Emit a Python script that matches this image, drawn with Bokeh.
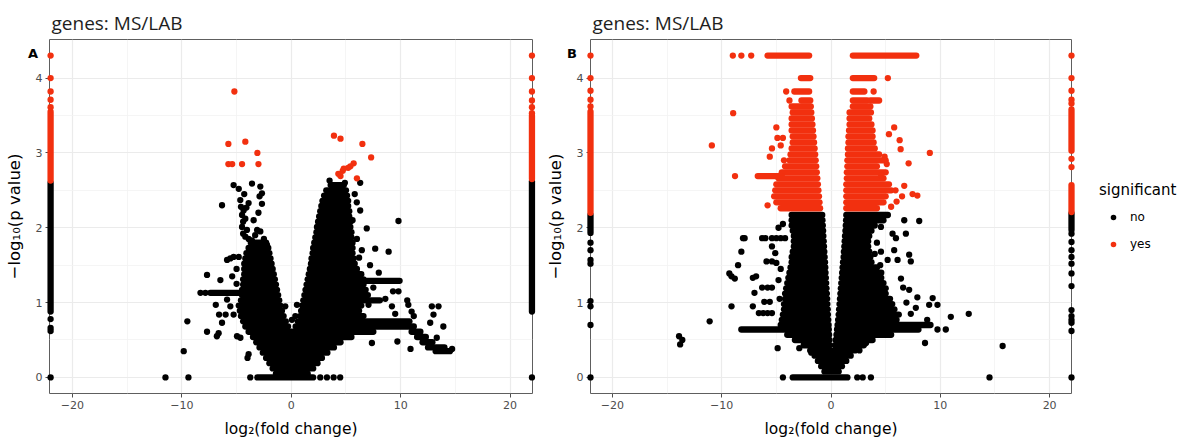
from bokeh.plotting import figure
from bokeh.models import Range1d, FixedTicker, Legend, LegendItem
from bokeh.layouts import row
from bokeh.embed import file_html
from bokeh.resources import INLINE
from bokeh.core.properties import value

# ---------------- data ----------------
TITLE = "genes: MS/LAB"
X_LABEL = "log\u2082(fold change)"
Y_LABEL = "\u2212log\u2081\u2080(p value)"
LEGEND_TITLE = "significant"
CATEGORIES = ["no", "yes"]
X_TICKS = [-20, -10, 0, 10, 20]
X_MINOR = [-15, -5, 5, 15]
Y_TICKS = [0, 1, 2, 3, 4]
Y_MINOR = [0.5, 1.5, 2.5, 3.5]

# Panel A -- dense, saturated stretches of overlapping points: (y, x_from, x_to)
A_NO_RUNS = [
    (0.00, -3.1, 2.0), (0.05, -1.4, 1.5), (0.12, -1.7, 2.0), (0.19, -2.0, 2.4),
    (0.26, -2.3, 2.8), (0.33, -2.6, 3.3), (0.40, -2.9, 3.9), (0.47, -3.2, 4.5),
    (0.54, -3.5, 5.5), (0.61, -3.9, 7.5), (0.61, 11.0, 11.8),
    (0.68, -4.2, -0.3), (0.68, 0.4, 11.2), (0.75, -4.4, -0.5), (0.75, 0.6, 10.8),
    (0.82, -4.6, -0.7), (0.82, 0.8, 6.6), (0.89, -4.7, -0.85), (0.89, 0.9, 6.2),
    (0.96, -4.8, -1.0), (0.96, 1.0, 6.4), (1.03, -4.6, -1.1), (1.03, 1.1, 8.1),
    (1.10, -4.5, -1.2), (1.10, 1.2, 7.0), (1.13, -7.4, -4.5),
    (1.17, -4.5, -1.3), (1.17, 1.3, 6.8), (1.24, -4.4, -1.4), (1.24, 1.4, 6.6),
    (1.29, 6.6, 9.9), (1.31, -4.4, -1.5), (1.31, 1.5, 6.6),
    (1.38, -4.3, -1.6), (1.38, 1.6, 6.4), (1.45, -4.3, -1.7), (1.45, 1.7, 6.0),
    (1.52, -4.3, -1.8), (1.52, 1.8, 5.8), (1.59, -4.2, -1.9), (1.59, 1.85, 5.7),
    (1.66, -4.1, -2.0), (1.66, 1.95, 5.6), (1.73, -3.9, -2.1), (1.73, 2.0, 5.6),
    (1.80, -3.7, -2.3), (1.80, 2.1, 5.6), (1.87, 2.2, 5.5), (1.94, 2.3, 5.5),
    (2.01, 2.35, 5.4), (2.08, 2.45, 5.4), (2.15, 2.55, 5.3), (2.22, 2.65, 5.3),
    (2.29, 2.75, 5.2), (2.36, 2.85, 5.2), (2.43, 3.0, 5.1), (2.50, 3.2, 5.0),
    (2.57, 3.6, 4.8),
    (0.54, 11.5, 12.3), (0.47, 12.0, 12.9), (0.40, 12.5, 14.0), (0.35, 13.2, 14.5),
]
A_YES_RUNS = []
# points squeezed onto the axis limits: (x, y_from, y_to)
A_NO_EDGE = [(-22, 0.88, 2.60), (22, 0.88, 2.62)]
A_YES_EDGE = [(-22, 2.63, 3.55), (22, 2.65, 3.50)]
A_NO_PTS = [
    (-5.27, 2.57), (-4.8, 2.52), (-3.59, 2.59), (-2.83, 2.55), (-2.68, 2.46), (-6.33, 2.30),
    (-4.66, 2.37), (-3.9, 2.33), (-2.68, 2.32), (-4.36, 2.23), (-4.5, 2.17), (-3.44, 2.10),
    (-4.5, 2.01), (-4.05, 1.97), (-3.13, 1.97), (-2.83, 1.95), (-4.2, 1.88), (-3.6, 1.83),
    (-2.22, 1.77), (-2.68, 1.75), (-4.4, 2.08), (-4.2, 2.12), (-3.0, 2.20), (-2.9, 2.42),
    (-4.6, 2.28), (-4.3, 2.45), (-4.1, 2.27), (-4.4, 1.92), (-3.9, 1.85), (-3.3, 1.90), (-2.5, 1.85),
    (-5.87, 1.57), (-5.57, 1.59), (-5.27, 1.61), (-4.8, 1.61), (-7.7, 1.37), (-6.48, 1.30),
    (-8.3, 1.13), (-7.85, 1.13), (-5.87, 1.04), (-6.9, 0.97), (-5.57, 0.95), (-5.27, 0.84),
    (-6.6, 0.84), (-6.0, 0.84), (-6.33, 0.73), (-7.7, 0.61), (-6.64, 0.59), (-6.8, 0.55),
    (-4.96, 0.55), (-4.65, 0.53), (-9.5, 0.75), (-9.83, 0.35), (-9.4, 0.0), (-11.5, 0.0),
    (-3.75, 0.0), (-3.9, 0.31), (-4.0, 0.26), (-5.0, 1.25), (-5.4, 1.35), (-5.0, 1.45),
    (-0.55, 0.95), (0.52, 0.97), (0.37, 0.82), (0.06, 0.77),
    (9.8, 2.09), (8.9, 1.68), (7.67, 1.72), (6.45, 1.70), (6.9, 1.99), (6.3, 2.23), (5.99, 2.34),
    (6.3, 2.60), (4.9, 2.60), (3.5, 2.63), (10.6, 1.03), (10.7, 0.97), (11.0, 0.88), (11.2, 0.82),
    (7.37, 0.46), (9.7, 0.48), (10.9, 0.38), (12.85, 0.95), (13.46, 0.95), (13.0, 0.84),
    (12.7, 0.73), (13.9, 0.68), (13.3, 0.53), (7.06, 0.97), (9.3, 1.15), (9.8, 1.15),
    (2.65, 0.0), (3.26, 0.0), (3.87, 0.0), (4.47, 0.0), (6.0, 1.85), (7.2, 1.5), (8.0, 1.4),
    (7.5, 1.2), (8.6, 1.05), (9.2, 0.95), (9.5, 0.85), (14.7, 0.38), (5.8, 2.45), (5.6, 2.1),
    (6.2, 1.6), (5.9, 1.3),
    (-22, 0.78), (-22, 0.66), (-22, 0.62), (-22, 0.0), (22, 0.0),
]
A_YES_PTS = [
    (-5.2, 3.82), (-5.75, 3.12), (-4.2, 3.15), (-3.1, 3.0), (-5.75, 2.85), (-5.4, 2.85),
    (-4.5, 2.85), (-3.0, 2.85), (3.9, 3.23), (4.5, 3.19), (6.5, 3.12), (7.3, 2.94), (5.7, 2.86),
    (5.4, 2.82), (5.2, 2.80), (4.7, 2.76), (4.5, 2.69), (6.0, 2.66), (4.3, 2.72), (4.8, 2.79),
    (-22, 4.30), (-22, 4.00), (-22, 3.82), (-22, 3.71), (-22, 3.61),
    (22, 4.30), (22, 4.00), (22, 3.82), (22, 3.70), (22, 3.61), (22, 3.53),
]

# Panel B
B_NO_RUNS = [
    (2.17, -3.6, -0.8), (2.17, 1.4, 5.2), (2.10, -3.6, -0.78), (2.10, 1.38, 4.8),
    (2.03, -3.6, -0.75), (2.03, 1.35, 4.0), (1.96, -3.5, -0.72), (1.96, 1.32, 3.7),
    (1.89, -3.4, -0.7), (1.89, 1.28, 3.5), (1.82, -3.4, -0.67), (1.82, 1.25, 3.4),
    (1.75, -3.4, -0.64), (1.75, 1.22, 3.4), (1.68, -3.5, -0.61), (1.68, 1.18, 3.5),
    (1.61, -3.6, -0.58), (1.61, 1.15, 3.6), (1.54, -3.6, -0.55), (1.54, 1.1, 3.7),
    (1.47, -3.7, -0.52), (1.47, 1.06, 4.2), (1.40, -3.8, -0.5), (1.40, 1.02, 4.6),
    (1.33, -3.9, -0.47), (1.33, 0.98, 4.6), (1.26, -4.0, -0.44), (1.26, 0.94, 4.8),
    (1.19, -4.1, -0.41), (1.19, 0.9, 5.0), (1.12, -4.2, -0.38), (1.12, 0.86, 5.0),
    (1.05, -4.2, -0.35), (1.05, 0.82, 5.4), (0.98, -4.3, -0.33), (0.98, 0.78, 5.6),
    (0.91, -4.3, -0.30), (0.91, 0.74, 5.8), (0.84, -4.4, -0.28), (0.84, 0.7, 6.2),
    (0.77, -4.5, -0.25), (0.77, 0.65, 6.0), (0.70, -4.6, -0.22), (0.70, 0.6, 9.1),
    (0.64, -8.2, -0.2), (0.64, 0.55, 8.0), (0.57, -4.0, -0.17), (0.57, 0.5, 5.5),
    (0.50, -3.3, -0.14), (0.50, 0.43, 3.8), (0.43, -2.5, -0.11), (0.43, 0.36, 3.0),
    (0.36, -1.9, -0.08), (0.36, 0.3, 2.2), (0.29, -1.5, -0.05), (0.29, 0.24, 1.8),
    (0.22, -1.2, 1.4), (0.15, -0.9, 1.0), (0.08, -0.6, 0.7), (0.00, -3.5, 1.5),
]
B_YES_RUNS = [
    (4.30, -5.8, -2.0), (4.30, 2.0, 7.8), (4.00, -2.75, -1.9), (4.00, 2.0, 3.95),
    (3.82, -3.35, -2.0), (3.82, 2.0, 3.05), (3.70, -2.7, -1.9), (3.70, 2.0, 3.3), (3.70, 3.6, 4.4),
    (3.62, -3.6, -1.85), (3.62, 2.0, 3.6), (3.54, -3.5, -1.8), (3.54, 1.7, 3.65),
    (3.46, -3.6, -1.75), (3.46, 1.7, 3.5), (3.38, -3.6, -1.7), (3.38, 1.7, 3.7),
    (3.30, -3.6, -1.65), (3.30, 1.65, 3.8), (3.22, -3.5, -1.6), (3.22, 1.6, 3.8),
    (3.14, -3.5, -1.55), (3.14, 1.6, 3.9), (3.06, -3.6, -1.5), (3.06, 1.55, 4.0),
    (2.98, -3.7, -1.45), (2.98, 1.55, 4.4), (2.90, -3.8, -1.4), (2.90, 1.5, 5.0),
    (2.82, -4.2, -1.35), (2.82, 1.5, 4.2), (2.74, -4.5, -1.3), (2.74, 1.45, 5.0),
    (2.69, -6.7, -4.5), (2.66, -4.8, -1.25), (2.66, 1.45, 4.8), (2.58, -5.0, -1.2),
    (2.58, 1.4, 5.3), (2.50, -5.1, -1.15), (2.50, 1.4, 5.5), (2.42, -5.2, -1.1),
    (2.42, 1.4, 5.0), (2.34, -5.0, -1.05), (2.34, 1.4, 4.8), (2.26, -4.6, -1.0), (2.26, 1.4, 4.2),
]
B_NO_EDGE = [(-22, 1.93, 2.17), (22, 1.97, 2.19)]
B_YES_EDGE = [(-22, 2.20, 3.55), (22, 3.03, 3.58), (22, 2.21, 2.57)]
B_NO_PTS = [
    (-8.05, 1.86), (-7.9, 1.86), (-6.3, 1.86), (-6.0, 1.86), (-5.4, 1.86), (-5.0, 1.86),
    (-4.6, 1.86), (-4.2, 1.86), (-8.2, 1.68), (-8.5, 1.50), (-9.3, 1.39), (-9.1, 1.35),
    (-8.8, 1.32), (-9.1, 0.95), (-11.1, 0.75), (-13.9, 0.55), (-13.6, 0.50), (-13.8, 0.44),
    (-7.15, 1.33), (-6.85, 1.35), (-7.0, 1.13), (-7.15, 0.95), (-6.3, 1.2), (-5.8, 1.2),
    (-5.4, 1.2), (-6.1, 1.01), (-5.6, 1.01), (-6.6, 0.86), (-6.2, 0.86), (-5.8, 0.86),
    (-5.4, 0.86), (-5.4, 1.75), (-5.1, 1.66), (-5.9, 1.55), (-5.4, 1.55), (-5.0, 1.53),
    (-4.88, 0.39), (-2.9, 0.39), (-1.8, 0.33), (-4.4, 0.0), (-4.8, 2.0), (-4.4, 2.05),
    (-4.6, 1.45), (-4.8, 1.3), (-4.7, 1.05),
    (6.7, 2.10), (8.07, 2.09), (4.57, 2.01), (5.63, 1.92), (6.85, 1.92), (5.94, 1.86),
    (4.57, 1.68), (5.78, 1.70), (5.18, 1.57), (6.09, 1.57), (7.15, 1.64), (7.3, 1.55),
    (6.4, 1.32), (7.15, 1.17), (7.9, 1.07), (9.3, 1.06), (8.98, 0.97), (9.74, 0.97),
    (10.96, 0.81), (12.6, 0.85), (9.74, 0.64), (10.5, 0.64), (8.6, 0.46), (15.7, 0.42),
    (14.5, 0.0), (3.2, 0.46), (2.6, 0.36), (7.76, 0.93), (8.8, 0.77), (2.4, 0.0), (2.9, 0.0),
    (3.65, 0.0), (4.2, 1.8), (4.0, 1.65), (4.5, 1.5), (6.6, 1.2), (6.9, 1.0), (7.3, 0.85),
    (-22, 1.80), (-22, 1.70), (-22, 1.57), (-22, 1.52), (-22, 1.02), (-22, 0.95), (-22, 0.70),
    (-22, 0.0), (22, 1.92), (22, 1.81), (22, 1.70), (22, 1.61), (22, 1.52), (22, 1.39),
    (22, 1.22), (22, 0.90), (22, 0.82), (22, 0.77), (22, 0.73), (22, 0.62), (22, 0.0),
]
B_YES_PTS = [
    (-8.98, 4.30), (-8.2, 4.30), (-7.3, 4.30), (5.2, 4.0), (-4.1, 3.82), (3.9, 3.82),
    (-3.8, 3.70), (-8.95, 3.53), (-10.9, 3.1), (-8.78, 2.69), (-5.8, 2.30), (9.04, 3.0),
    (7.1, 2.86), (5.78, 3.34), (5.3, 3.25), (6.28, 3.17), (6.37, 3.05), (-5.0, 3.34),
    (-4.9, 3.2), (-4.4, 3.2), (-5.4, 3.06), (-4.6, 3.1), (-5.6, 2.95), (-4.3, 2.9),
    (6.7, 2.56), (7.46, 2.45), (7.9, 2.43), (6.5, 2.42), (5.9, 2.5), (6.0, 2.35), (5.5, 2.28),
    (4.6, 2.7), (4.9, 2.95), (5.1, 2.85),
    (-22, 4.30), (-22, 4.00), (-22, 3.83), (-22, 3.71), (-22, 3.62),
    (22, 4.30), (22, 4.00), (22, 3.83), (22, 3.71), (22, 3.66), (22, 2.92), (22, 2.81),
]

# ---------------- styling ----------------
COLORS = {"no": "#000000", "yes": "#F2300F"}
DOT = 6.3
FONT = "DejaVu Sans"
HEIGHT = 443


def make_panel(width, border_left, border_right, x_lo, x_hi, tag, tag_x, series):
    p = figure(width=width, height=HEIGHT, output_backend="svg", toolbar_location=None,
               x_range=Range1d(x_lo, x_hi), y_range=Range1d(-0.215, 4.515),
               min_border_left=border_left, min_border_right=border_right,
               min_border_top=39, min_border_bottom=50, title=TITLE)
    p.title.text_font = "Open Sans"
    p.title.text_font_size = "19px"
    p.title.text_font_style = "normal"
    p.title.text_color = "#1E1E1E"
    p.title.align = "left"
    p.title.offset = 2
    p.title.standoff = 7

    p.background_fill_color = "white"
    p.border_fill_color = "white"
    p.outline_line_color = "#5E5E5E"
    p.outline_line_width = 1

    p.xaxis.ticker = FixedTicker(ticks=X_TICKS, minor_ticks=X_MINOR)
    p.yaxis.ticker = FixedTicker(ticks=Y_TICKS, minor_ticks=Y_MINOR)
    p.xaxis.axis_label = X_LABEL
    p.yaxis.axis_label = Y_LABEL
    for ax in (p.xaxis[0], p.yaxis[0]):
        ax.axis_line_color = None
        ax.major_tick_line_color = "#4D4D4D"
        ax.major_tick_out = 4
        ax.major_tick_in = 0
        ax.minor_tick_line_color = None
        ax.major_label_text_font = FONT
        ax.major_label_text_font_size = "11px"
        ax.major_label_text_color = "#4D4D4D"
        ax.major_label_standoff = 3
        ax.axis_label_text_font = FONT
        ax.axis_label_text_font_style = "normal"
        ax.axis_label_text_color = "#000000"
    p.xaxis.axis_label_text_font_size = "15.5px"
    p.yaxis.axis_label_text_font_size = "16.5px"
    p.xaxis.axis_label_standoff = 8
    p.yaxis.axis_label_standoff = 9

    for g in (p.xgrid[0], p.ygrid[0]):
        g.grid_line_color = "#EBEBEB"
        g.grid_line_width = 1.2
        g.minor_grid_line_color = "#F2F2F2"
        g.minor_grid_line_width = 0.8

    for cat in CATEGORIES:
        runs, edge, pts = series[cat]
        col = COLORS[cat]
        if runs:
            p.segment(x0=[r[1] for r in runs], y0=[r[0] for r in runs],
                      x1=[r[2] for r in runs], y1=[r[0] for r in runs],
                      line_width=DOT, line_cap="round", line_color=col, level="overlay")
        if edge:
            p.segment(x0=[e[0] for e in edge], y0=[e[1] for e in edge],
                      x1=[e[0] for e in edge], y1=[e[2] for e in edge],
                      line_width=DOT, line_cap="round", line_color=col, level="overlay")
        p.scatter([q[0] for q in pts], [q[1] for q in pts], size=DOT,
                  fill_color=col, line_color=None, level="overlay")

    p.text(x=[tag_x], y=[4.33], text=[tag], text_font=value(FONT), text_font_style="bold",
           text_font_size="13px", text_align="center", text_baseline="middle",
           text_color="#000000", level="overlay")
    return p


pA = make_panel(540, 49, 8, -22.1, 22.05, "A", -23.6, {
    "no": (A_NO_RUNS, A_NO_EDGE, A_NO_PTS),
    "yes": (A_YES_RUNS, A_YES_EDGE, A_YES_PTS),
})
pB = make_panel(539, 50, 8, -22.0, 22.0, "B", -23.7, {
    "no": (B_NO_RUNS, B_NO_EDGE, B_NO_PTS),
    "yes": (B_YES_RUNS, B_YES_EDGE, B_YES_PTS),
})

# guide strip to the right of panel B that carries the colour legend
pL = figure(width=107, height=HEIGHT, output_backend="svg", toolbar_location=None,
            x_range=Range1d(100, 101), y_range=Range1d(100, 101),
            x_axis_location=None, y_axis_location=None,
            min_border_left=0, min_border_right=0, min_border_top=0, min_border_bottom=0)
pL.outline_line_color = None
pL.background_fill_color = "white"
pL.border_fill_color = "white"
for g in pL.grid:
    g.visible = False
key_rends = {}
for cat, pts in (("no", B_NO_PTS), ("yes", B_YES_PTS)):
    key_rends[cat] = pL.scatter([q[0] for q in pts], [q[1] for q in pts], size=DOT,
                                fill_color=COLORS[cat], line_color=None)

legend = Legend(items=[LegendItem(label=c, renderers=[key_rends[c]]) for c in CATEGORIES],
                title=LEGEND_TITLE, location=(20, 137), orientation="vertical",
                margin=0, padding=8, spacing=3, glyph_width=28, glyph_height=14,
                label_height=24, label_standoff=3, title_standoff=6,
                border_line_color=None, background_fill_alpha=0,
                label_text_font=FONT, label_text_font_size="12px", label_text_color="#000000",
                title_text_font=FONT, title_text_font_size="15px",
                title_text_font_style="normal", title_text_color="#000000")
pL.add_layout(legend, "center")

layout = row(pA, pB, pL)
open("out.html", "w").write(file_html(layout, INLINE))
